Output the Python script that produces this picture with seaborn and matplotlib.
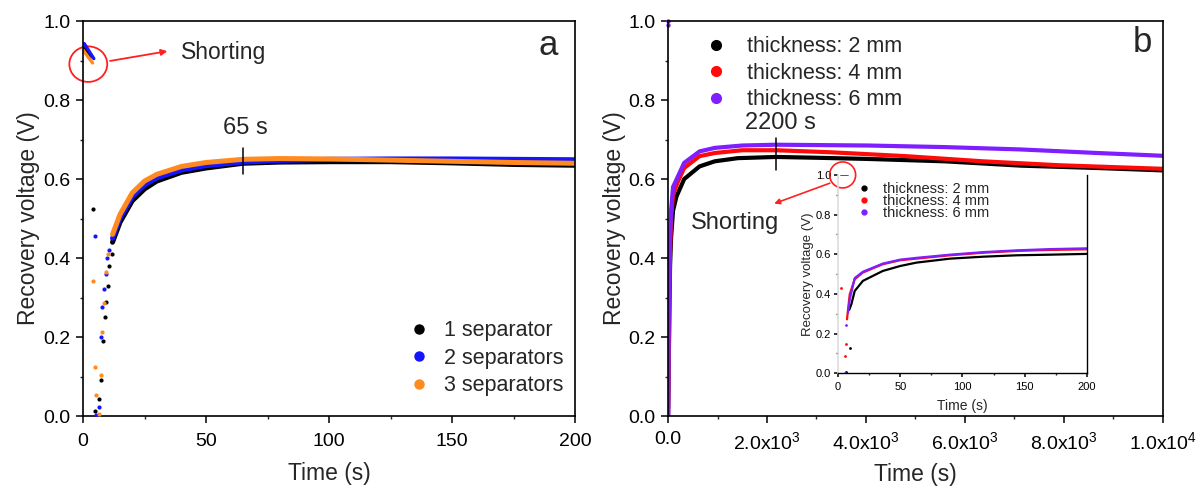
import numpy as np
import pandas as pd
import matplotlib
matplotlib.use("Agg")
import matplotlib.pyplot as plt
import seaborn as sns
from matplotlib.lines import Line2D
from matplotlib.patches import Ellipse
from matplotlib.ticker import MultipleLocator

# ---------------- Panel a data ----------------
a_curve_t = [12, 15, 20, 25, 30, 40, 50, 65, 80, 100, 125, 150, 175, 200]
a_curve_1sep = [0.44, 0.49, 0.545, 0.575, 0.595, 0.617, 0.628, 0.640, 0.643, 0.644, 0.644, 0.641, 0.637, 0.635]
a_curve_2sep = [0.45, 0.50, 0.555, 0.585, 0.603, 0.623, 0.634, 0.643, 0.647, 0.650, 0.651, 0.651, 0.650, 0.649]
a_curve_3sep = [0.46, 0.51, 0.565, 0.595, 0.612, 0.632, 0.642, 0.650, 0.652, 0.651, 0.648, 0.645, 0.642, 0.640]

a_pts_1sep_t = [3.9, 4.7, 6.7, 7.5, 8.2, 8.9, 9.3, 10.1, 10.6, 11.7]
a_pts_1sep_v = [0.525, 0.013, 0.044, 0.09, 0.19, 0.25, 0.29, 0.33, 0.38, 0.41]
a_pts_2sep_t = [4.7, 5.4, 6.7, 7.3, 7.9, 8.6, 9.3, 9.8, 10.5]
a_pts_2sep_v = [0.455, 0.003, 0.022, 0.20, 0.275, 0.322, 0.36, 0.40, 0.42]
a_pts_3sep_t = [3.9, 4.7, 5.4, 6.7, 7.3, 7.8, 8.6, 9.3, 10.2]
a_pts_3sep_v = [0.341, 0.125, 0.053, 0.005, 0.104, 0.213, 0.285, 0.365, 0.41]

a_short_t = [[0.5, 3.5], [0.5, 4.4], [0.0, 3.9]]
a_short_v = [[0.93, 0.91], [0.943, 0.905], [0.927, 0.894]]

a_labels = ["1 separator", "2 separators", "3 separators"]

# ---------------- Panel b data ----------------
b_2mm_t = [0, 10, 20, 30, 40, 60, 100, 170, 325, 635, 944, 1409, 2183, 3000, 4040, 5588, 7136, 8684, 10000]
b_2mm_v = [0.02, 0.10, 0.20, 0.30, 0.38, 0.45, 0.52, 0.556, 0.600, 0.632, 0.645, 0.653, 0.656, 0.654, 0.651, 0.645, 0.634, 0.628, 0.622]
b_4mm_t = [0, 10, 15, 25, 40, 60, 100, 200, 325, 635, 944, 1500, 2183, 3266, 4814, 6362, 7910, 10000]
b_4mm_v = [0.0, 0.09, 0.155, 0.30, 0.42, 0.50, 0.56, 0.594, 0.628, 0.658, 0.666, 0.673, 0.673, 0.668, 0.658, 0.645, 0.635, 0.626]
b_6mm_t = [5, 15, 25, 40, 60, 100, 200, 325, 635, 944, 1500, 2183, 4040, 5588, 7136, 8684, 10000]
b_6mm_v = [0.0, 0.25, 0.37, 0.45, 0.52, 0.58, 0.607, 0.641, 0.670, 0.679, 0.685, 0.687, 0.685, 0.681, 0.675, 0.666, 0.659]
b_short_t = [0, 0]
b_short_v = [0.99, 1.0]
b_labels = ["thickness: 2 mm", "thickness: 4 mm", "thickness: 6 mm"]

# inset (first 200 s)
in_2mm_t = [9.0, 10.7, 13.4, 20, 36, 50, 63, 90, 117, 144, 170, 200]
in_2mm_v = [0.32, 0.348, 0.415, 0.466, 0.516, 0.541, 0.558, 0.578, 0.588, 0.595, 0.598, 0.602]
in_4mm_t = [7.2, 9.4, 13.4, 20, 36, 50, 63, 90, 117, 144, 170, 200]
in_4mm_v = [0.272, 0.398, 0.474, 0.508, 0.55, 0.57, 0.578, 0.595, 0.608, 0.617, 0.622, 0.625]
in_6mm_t = [8.0, 9.4, 13.4, 20, 36, 50, 63, 90, 117, 144, 170, 200]
in_6mm_v = [0.306, 0.373, 0.48, 0.512, 0.553, 0.573, 0.582, 0.598, 0.611, 0.620, 0.626, 0.630]
in_pts_2mm_t = [6.7, 9.4]
in_pts_2mm_v = [0.008, 0.13]
in_pts_4mm_t = [2.7, 5.4, 6.7]
in_pts_4mm_v = [0.432, 0.087, 0.146]
in_pts_6mm_t = [5.4, 6.7]
in_pts_6mm_v = [0.003, 0.242]
in_short_t = [2.0, 8.0]
in_short_v = [1.0, 1.0]

a_colors = ["#000000", "#1414ff", "#ff8a1f"]
b_colors = ["#000000", "#ff0a0a", "#7f1fff"]

# ---------------- style ----------------
sns.set_theme(style="ticks")
plt.rcParams["font.family"] = ["Liberation Sans", "DejaVu Sans"]
plt.rcParams["mathtext.fontset"] = "custom"
plt.rcParams["mathtext.rm"] = "Liberation Sans"
plt.rcParams["mathtext.it"] = "Liberation Sans"
plt.rcParams["mathtext.bf"] = "Liberation Sans"
plt.rcParams["axes.linewidth"] = 1.2

fig = plt.figure(figsize=(11.96, 4.91), dpi=100)
axa = fig.add_axes([0.0694, 0.1527, 0.4114, 0.8043])
axb = fig.add_axes([0.5586, 0.1527, 0.4135, 0.8043])
axi = fig.add_axes([0.7007, 0.2397, 0.2080, 0.4040])


def style_axes(ax, lsize=14, maj=5, mnr=2.5, pad=4):
    ax.tick_params(axis="both", which="major", direction="out", length=maj, width=1.1,
                   labelsize=lsize, pad=pad, colors="black", top=False, right=False)
    ax.tick_params(axis="both", which="minor", direction="out", length=mnr, width=1.0,
                   top=False, right=False)
    for s in ax.spines.values():
        s.set_color("black")
        s.set_visible(True)
    ax.grid(False)


# ---------------- Panel a ----------------
curves_a = [a_curve_1sep, a_curve_2sep, a_curve_3sep]
pts_a = [(a_pts_1sep_t, a_pts_1sep_v), (a_pts_2sep_t, a_pts_2sep_v), (a_pts_3sep_t, a_pts_3sep_v)]
for i in range(3):
    df = pd.DataFrame({"t": a_curve_t, "v": curves_a[i]})
    sns.lineplot(data=df, x="t", y="v", ax=axa, color=a_colors[i], lw=3.6, estimator=None, sort=False)
    dp = pd.DataFrame({"t": pts_a[i][0], "v": pts_a[i][1]})
    sns.scatterplot(data=dp, x="t", y="v", ax=axa, color=a_colors[i], s=9, linewidth=0, zorder=3)
    ds = pd.DataFrame({"t": a_short_t[i], "v": a_short_v[i]})
    sns.lineplot(data=ds, x="t", y="v", ax=axa, color=a_colors[i], lw=2.4, estimator=None, sort=False)

axa.set_xlim(0, 200)
axa.set_ylim(0, 1.0)
axa.set_xticks([0, 50, 100, 150, 200])
axa.set_yticks([0.0, 0.2, 0.4, 0.6, 0.8, 1.0])
axa.set_yticklabels(["0.0", "0.2", "0.4", "0.6", "0.8", "1.0"])
axa.xaxis.set_minor_locator(MultipleLocator(25))
axa.yaxis.set_minor_locator(MultipleLocator(0.1))
style_axes(axa)
axa.tick_params(axis="x", which="major", pad=7)
axa.set_xlabel("Time (s)", fontsize=16.5, labelpad=9)
axa.set_ylabel("Recovery voltage (V)", fontsize=16.5, labelpad=2)

axa.add_patch(Ellipse((2.15, 0.891), 15.4, 0.09, fill=False, ec="#ff2020", lw=1.3, clip_on=False))
axa.annotate("", xy=(35.4, 0.925), xytext=(9.9, 0.898),
             arrowprops=dict(arrowstyle="-|>", color="#ff2020", lw=1.3, mutation_scale=9))
axa.text(39.7, 0.92, "Shorting", fontsize=16.5, ha="left", va="center")
axa.plot([65, 65], [0.612, 0.679], color="black", lw=1.1)
axa.text(66, 0.730, "65 s", fontsize=17, ha="center", va="center")
axa.text(189, 0.937, "a", fontsize=25, ha="center", va="center")

ha = [Line2D([], [], ls="none", marker="o", ms=6.5, color=c) for c in a_colors]
axa.legend(ha, a_labels, loc="lower right", bbox_to_anchor=(0.976, 0.05), frameon=False,
           fontsize=15.5, borderpad=0, borderaxespad=0, handlelength=1.0, handletextpad=0.65,
           labelspacing=0.3)

# ---------------- Panel b ----------------
bt = [b_2mm_t, b_4mm_t, b_6mm_t]
bv = [b_2mm_v, b_4mm_v, b_6mm_v]
for i in range(3):
    df = pd.DataFrame({"t": bt[i], "v": bv[i]})
    sns.lineplot(data=df, x="t", y="v", ax=axb, color=b_colors[i], lw=3.0, estimator=None, sort=False)
dsb = pd.DataFrame({"t": b_short_t, "v": b_short_v})
sns.scatterplot(data=dsb, x="t", y="v", ax=axb, color=b_colors[2], s=10, linewidth=0, clip_on=False)

axb.set_xlim(0, 10000)
axb.set_ylim(0, 1.0)
axb.set_xticks([0, 2000, 4000, 6000, 8000, 10000])
axb.set_xticklabels(["0.0", r"2.0x10$^{3}$", r"4.0x10$^{3}$", r"6.0x10$^{3}$",
                     r"8.0x10$^{3}$", r"1.0x10$^{4}$"])
axb.set_yticks([0.0, 0.2, 0.4, 0.6, 0.8, 1.0])
axb.set_yticklabels(["0.0", "0.2", "0.4", "0.6", "0.8", "1.0"])
axb.xaxis.set_minor_locator(MultipleLocator(1000))
axb.yaxis.set_minor_locator(MultipleLocator(0.1))
style_axes(axb)
axb.tick_params(axis="x", which="major", pad=6)
axb.set_xlabel("Time (s)", fontsize=16.5, labelpad=7)
axb.set_ylabel("Recovery voltage (V)", fontsize=16.5, labelpad=2)

axb.text(2276, 0.743, "2200 s", fontsize=17, ha="center", va="center")
axb.plot([2175, 2175], [0.624, 0.705], color="black", lw=1.1)
axb.text(9593, 0.945, "b", fontsize=25, ha="center", va="center")
axb.annotate("", xy=(2093, 0.5355), xytext=(3323, 0.592),
             arrowprops=dict(arrowstyle="-|>", color="#ff2020", lw=1.2, mutation_scale=8))
axb.text(467, 0.49, "Shorting", fontsize=17, ha="left", va="center")

hb = [Line2D([], [], ls="none", marker="o", ms=7, color=c) for c in b_colors]
axb.legend(hb, b_labels, loc="upper left", bbox_to_anchor=(0.076, 0.962), frameon=False,
           fontsize=15.5, borderpad=0, borderaxespad=0, handlelength=1.0, handletextpad=0.9,
           labelspacing=0.26)

# ---------------- Inset ----------------
it = [in_2mm_t, in_4mm_t, in_6mm_t]
iv = [in_2mm_v, in_4mm_v, in_6mm_v]
ipts = [(in_pts_2mm_t, in_pts_2mm_v), (in_pts_4mm_t, in_pts_4mm_v), (in_pts_6mm_t, in_pts_6mm_v)]
for i in range(3):
    df = pd.DataFrame({"t": it[i], "v": iv[i]})
    sns.lineplot(data=df, x="t", y="v", ax=axi, color=b_colors[i], lw=1.6, estimator=None, sort=False)
    dp = pd.DataFrame({"t": ipts[i][0], "v": ipts[i][1]})
    sns.scatterplot(data=dp, x="t", y="v", ax=axi, color=b_colors[i], s=4, linewidth=0)
dsh = pd.DataFrame({"t": in_short_t, "v": in_short_v})
sns.lineplot(data=dsh, x="t", y="v", ax=axi, color=b_colors[2], lw=1.4, estimator=None, sort=False)

axi.set_facecolor("none")
axi.set_xlim(0, 200)
axi.set_ylim(0, 1.0)
axi.set_xticks([0, 50, 100, 150, 200])
axi.set_yticks([0.0, 0.2, 0.4, 0.6, 0.8, 1.0])
axi.set_yticklabels(["0.0", "0.2", "0.4", "0.6", "0.8", "1.0"])
axi.xaxis.set_minor_locator(MultipleLocator(25))
axi.yaxis.set_minor_locator(MultipleLocator(0.1))
style_axes(axi, lsize=8, maj=3, mnr=1.5, pad=2)
axi.tick_params(axis="x", which="major", pad=3)
axi.spines["top"].set_visible(False)
axi.spines["left"].set_color("#dddddd")
axi.spines["right"].set_linewidth(1.0)
axi.spines["bottom"].set_linewidth(1.0)
axi.set_xlabel("Time (s)", fontsize=10, labelpad=5)
axi.set_ylabel("Recovery voltage (V)", fontsize=9.5, labelpad=1)
axi.add_patch(Ellipse((3.7, 1.0), 20.9, 0.131, fill=False, ec="#ff2020", lw=1.2, clip_on=False))

hi = [Line2D([], [], ls="none", marker="o", ms=3.5, color=c) for c in b_colors]
axi.legend(hi, b_labels, loc="upper left", bbox_to_anchor=(0.075, 0.965), frameon=False,
           fontsize=10.5, borderpad=0, borderaxespad=0, handlelength=1.0, handletextpad=0.8,
           labelspacing=-0.12)

fig.savefig("out.png", dpi=100)
